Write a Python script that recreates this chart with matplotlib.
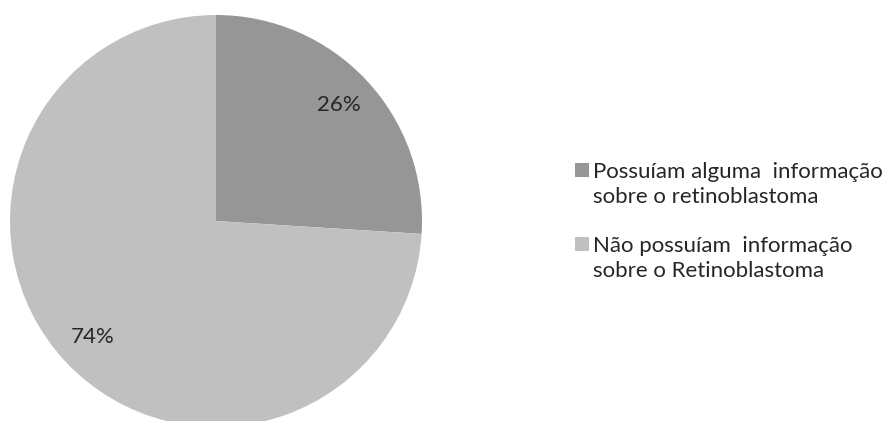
import matplotlib
matplotlib.use("Agg")
import matplotlib.pyplot as plt
from matplotlib.patches import Rectangle

# Respostas sobre o retinoblastoma (%)
rotulos = ["Possuíam alguma  informação\nsobre o retinoblastoma",
           "Não possuíam  informação\nsobre o Retinoblastoma"]
valores = [26, 74]
cores = ["#969696", "#c0c0c0"]

plt.rcParams['font.family'] = ['Lato', 'DejaVu Sans']

fig = plt.figure(figsize=(8.83, 4.21), dpi=100)
W, H = 883, 421
cx, cy, r = 216, 421 - 221, 206
ax = fig.add_axes([(cx - r) / W, (cy - r) / H, 2 * r / W, 2 * r / H])

fatias, textos, pcts = ax.pie(valores, colors=cores, startangle=90, counterclock=False,
                              autopct='%1.0f%%', pctdistance=0.82, radius=1,
                              textprops={'fontsize': 16, 'color': '#262626'})
ax.set_xlim(-1, 1)
ax.set_ylim(-1, 1)
ax.set_aspect('equal')
ax.axis('off')

# legenda desenhada a mao: quadrado alinhado com a primeira linha do texto
topo = [163, 237]          # topo do quadrado (px a partir do topo)
entre_linhas = 25
for i, (rot, cor) in enumerate(zip(rotulos, cores)):
    fig.patches.append(Rectangle((575 / W, 1 - (topo[i] + 14) / H), 14 / W, 14 / H,
                                 transform=fig.transFigure, facecolor=cor,
                                 edgecolor='none'))
    for j, linha in enumerate(rot.split('\n')):
        base = topo[i] + 15 + j * entre_linhas
        fig.text(593 / W, 1 - base / H, linha, fontsize=16, color='#262626',
                 ha='left', va='baseline')

fig.savefig("out.png", dpi=100)
